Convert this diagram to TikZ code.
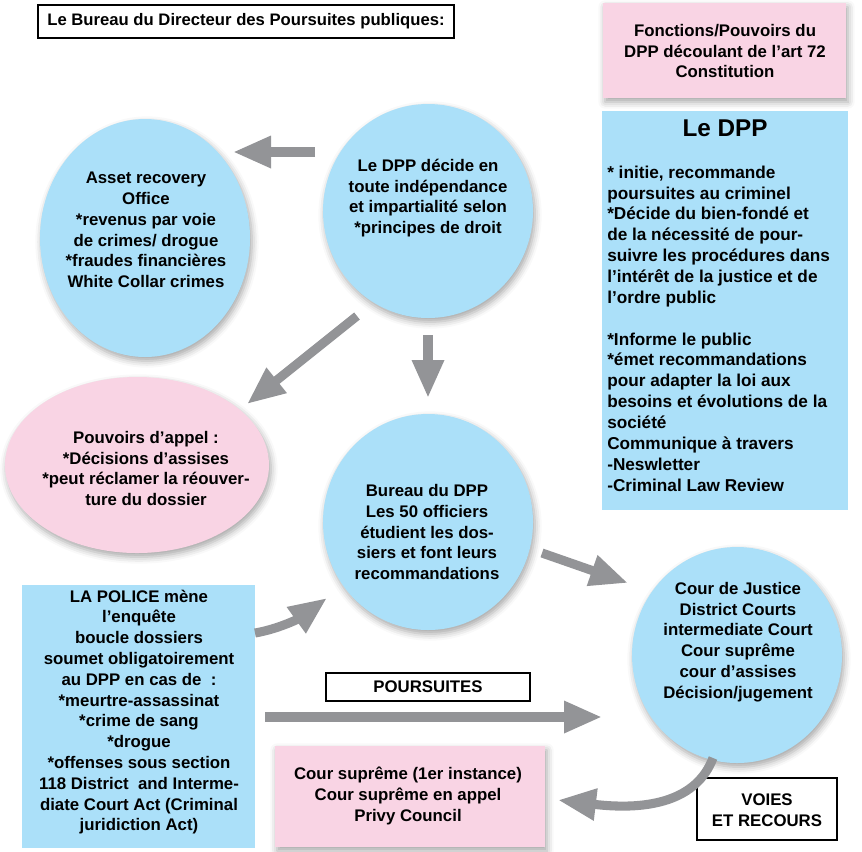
\documentclass[tikz,border=0pt]{standalone}
\usepackage{fontspec}
\setmainfont{Liberation Sans}
\usetikzlibrary{arrows.meta,shadows.blur}

\definecolor{bleu}{RGB}{171,224,249}
\definecolor{rose}{RGB}{249,212,228}
\definecolor{gris}{RGB}{147,148,151}

\tikzset{
  fleche/.style={draw=gris,line width=6.8pt,-{Triangle[length=28.5pt,width=22.5pt]}},
  ombre/.style={blur shadow={shadow xshift=1.5pt,shadow yshift=-3pt,shadow blur radius=5pt,shadow opacity=35}},
  texte/.style={inner sep=0pt,align=center,font=\fontsize{12.6}{15.6}\selectfont\bfseries},
}

\begin{document}
\begin{tikzpicture}[x=0.75pt,y=0.75pt,yscale=-1,xscale=1]
\useasboundingbox (0,0) rectangle (862,851);

%Shape: Rectangle [titre]
\draw [line width=1.1pt, fill=white] (38,5) rectangle (454,38);
%Shape: Rectangle [fonctions]
\draw [draw=none, fill=rose, ombre] (603,3) rectangle (846,98);
%Shape: Rectangle [le DPP]
\draw [draw=none, fill=bleu] (602,111) rectangle (848,510);
%Shape: Ellipse [asset]
\draw [draw=none, fill=bleu, ombre] (145,238) ellipse (105 and 119);
%Shape: Ellipse [decide]
\draw [draw=none, fill=bleu, ombre] (428,211) ellipse (105 and 107);
%Shape: Ellipse [appel]
\draw [draw=none, fill=rose, ombre] (137,465) ellipse (132 and 88);
%Shape: Ellipse [bureau]
\draw [draw=none, fill=bleu, ombre] (428,522) ellipse (105 and 108);
%Shape: Ellipse [cour]
\draw [draw=none, fill=bleu, ombre] (737,655) ellipse (105 and 108);
%Shape: Rectangle [police]
\draw [draw=none, fill=bleu] (22,585) rectangle (255,848);
%Shape: Rectangle [poursuites]
\draw [line width=1.1pt, fill=white] (326,673) rectangle (530,701);
%Shape: Rectangle [supreme]
\draw [draw=none, fill=rose, ombre] (275,746) rectangle (545,847);
%Shape: Rectangle [voies]
\draw [line width=1.1pt, fill=white] (697,778) rectangle (837,840);

% Text Node
\draw (246,21) node (titre) [texte, font=\fontsize{12.5}{15.6}\selectfont\bfseries] {Le Bureau du Directeur des Poursuites publiques:};
% Text Node
\draw (725,51) node (fonctions) [texte] {Fonctions/Pouvoirs du\\DPP découlant de l’art 72\\Constitution};
% Text Node
\draw (725,128) node (ledpp) [texte, font=\fontsize{18.2}{22}\selectfont\bfseries] {Le DPP};
% Text Node
\draw (607,328.5) node (missions) [texte, anchor=west, align=left, font=\fontsize{12.9}{15.65}\selectfont\bfseries] {* initie, recommande\\poursuites au criminel\\{}*Décide du bien-fondé et\\de la nécessité de pour-\\suivre les procédures dans\\l’intérêt de la justice et de\\l’ordre public\\[15.65pt]{}*Informe le public\\{}*émet recommandations\\pour adapter la loi aux\\besoins et évolutions de la\\société\\Communique à travers\\-Neswletter\\-Criminal Law Review};
% Text Node
\draw (146,230) node (asset) [texte] {Asset recovery\\Office\\{}*revenus par voie\\de crimes/ drogue\\{}*fraudes financières\\White Collar crimes};
% Text Node
\draw (428,198) node (decide) [texte] {Le DPP décide en\\toute indépendance\\et impartialité selon\\{}*principes de droit};
% Text Node
\draw (146,468.5) node (appel) [texte] {Pouvoirs d’appel :\\{}*Décisions d’assises\\{}*peut réclamer la réouver-\\ture du dossier};
% Text Node
\draw (427,532) node (bureau) [texte] {Bureau du DPP\\Les 50 officiers\\étudient les dos-\\siers et font leurs\\recommandations};
% Text Node
\draw (738,642) node (cour) [texte] {Cour de Justice\\District Courts\\intermediate Court\\Cour suprême\\cour d’assises\\Décision/jugement};
% Text Node
\draw (139,712) node (police) [texte] {LA POLICE mène\\l’enquête\\boucle dossiers\\soumet obligatoirement\\au DPP en cas de~ :\\{}*meurtre-assassinat\\{}*crime de sang\\{}*drogue\\{}*offenses sous section\\118 District~ and Interme-\\diate Court Act (Criminal\\juridiction Act)};
% Text Node
\draw (428,687) node (poursuites) [texte] {POURSUITES};
% Text Node
\draw (408,796) node (supreme) [texte] {Cour suprême (1er instance)\\Cour suprême en appel\\Privy Council};
% Text Node
\draw (767,810) node (voies) [texte] {VOIES\\ET RECOURS};

% Arrows
\coordinate (d1) at (315,152);
\coordinate (a1) at (233,152);
\coordinate (d2) at (357,316);
\coordinate (a2) at (247,404);
\coordinate (d3) at (428,335);
\coordinate (a3) at (428,398);
\coordinate (d4) at (542,553);
\coordinate (a4) at (628,583);
\coordinate (d5) at (255,633);
\coordinate (a5) at (327,598);
\coordinate (d6) at (265,717);
\coordinate (a6) at (602,717);
\coordinate (d7) at (713,758);
\coordinate (a7) at (558,800);

\draw [fleche] (d1) -- (a1);
\draw [fleche] (d2) -- (a2);
\draw [fleche] (d3) -- (a3);
\draw [fleche] (d4) -- (a4);
\draw [fleche] (d5) .. controls (278,629) and (298,619) .. (a5);
\draw [fleche] (d6) -- (a6);
\draw [fleche] (d7) .. controls (697,800) and (650,811) .. (a7);

\end{tikzpicture}
\end{document}
